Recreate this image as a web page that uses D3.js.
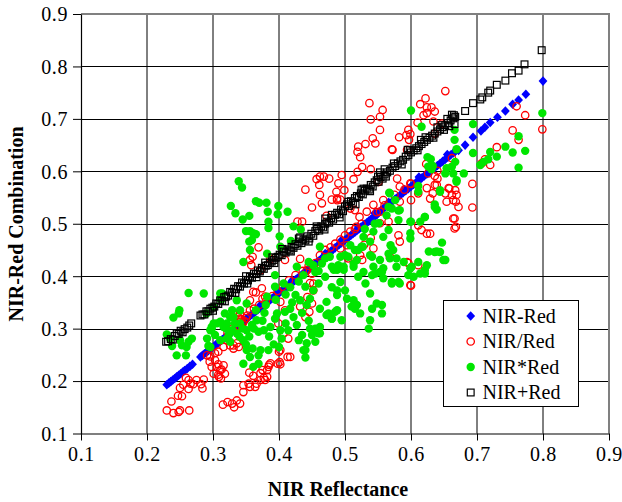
<!DOCTYPE html>
<html>
<head>
<meta charset="utf-8">
<script src="https://cdn.jsdelivr.net/npm/d3@7"></script>
<style>
  body { margin: 0; background: #fff; }
</style>
</head>
<body>
<svg id="chart" width="622" height="502"></svg>
<script>
const SERIF = "Liberation Serif, Times New Roman, serif";

// Axis ticks
const xTicks = [0.1, 0.2, 0.3, 0.4, 0.5, 0.6, 0.7, 0.8, 0.9];
const yTicks = [0.1, 0.2, 0.3, 0.4, 0.5, 0.6, 0.7, 0.8, 0.9];

// Series names (legend order)
const seriesNames = ["NIR-Red", "NIR/Red", "NIR*Red", "NIR+Red"];

// NIR-Red : [NIR reflectance, combination value]
const nirMinusRed = [
  [0.230,0.193],[0.233,0.196],[0.236,0.199],[0.239,0.202],[0.242,0.205],[0.245,0.208],[0.248,0.211],
  [0.251,0.214],[0.254,0.217],[0.257,0.220],[0.261,0.224],[0.265,0.228],[0.269,0.232],
  [0.281,0.246],[0.284,0.249],[0.287,0.252],[0.290,0.255],[0.293,0.258],[0.296,0.261],[0.299,0.264],
  [0.302,0.267],[0.305,0.270],[0.308,0.273],[0.311,0.276],[0.314,0.279],[0.317,0.282],[0.320,0.285],
  [0.323,0.288],[0.326,0.291],[0.329,0.294],[0.332,0.297],[0.335,0.300],[0.338,0.303],[0.341,0.306],
  [0.344,0.309],[0.347,0.312],[0.350,0.318],[0.353,0.321],[0.356,0.324],[0.359,0.327],[0.362,0.330],
  [0.365,0.333],[0.368,0.336],[0.371,0.339],[0.374,0.342],[0.377,0.345],[0.380,0.348],[0.383,0.351],
  [0.386,0.354],[0.389,0.357],[0.392,0.360],[0.395,0.363],[0.398,0.366],[0.401,0.369],[0.404,0.372],
  [0.407,0.375],[0.410,0.378],[0.413,0.381],[0.416,0.384],[0.419,0.387],[0.422,0.390],[0.425,0.393],
  [0.428,0.396],[0.431,0.399],[0.434,0.402],[0.437,0.405],[0.440,0.408],[0.443,0.411],[0.446,0.414],
  [0.449,0.417],[0.452,0.421],[0.455,0.424],[0.458,0.427],[0.461,0.430],[0.464,0.433],[0.467,0.436],
  [0.470,0.439],[0.473,0.442],[0.476,0.445],[0.479,0.448],[0.482,0.451],[0.485,0.454],[0.488,0.457],
  [0.491,0.460],[0.494,0.463],[0.497,0.466],[0.500,0.469],[0.503,0.472],[0.506,0.475],[0.509,0.478],
  [0.512,0.481],[0.515,0.484],[0.518,0.487],[0.521,0.490],[0.524,0.493],[0.527,0.496],[0.530,0.499],
  [0.533,0.502],[0.536,0.505],[0.539,0.508],[0.542,0.511],[0.545,0.514],[0.548,0.517],[0.551,0.521],
  [0.554,0.525],[0.557,0.528],[0.560,0.531],[0.564,0.535],[0.568,0.539],[0.572,0.543],[0.576,0.547],
  [0.580,0.551],[0.584,0.555],[0.588,0.559],[0.592,0.563],[0.596,0.567],[0.600,0.571],[0.604,0.575],
  [0.608,0.579],[0.612,0.583],[0.616,0.587],[0.620,0.591],[0.624,0.595],[0.628,0.599],[0.632,0.603],
  [0.636,0.607],[0.640,0.611],[0.644,0.615],[0.648,0.619],[0.652,0.623],[0.656,0.627],[0.660,0.631],
  [0.664,0.635],[0.667,0.638],[0.672,0.640],[0.682,0.650],[0.694,0.665],[0.706,0.677],[0.712,0.684],
  [0.720,0.693],[0.731,0.703],[0.743,0.715],[0.754,0.728],[0.763,0.736],[0.774,0.747],[0.800,0.772],
  [0.345,0.312],[0.372,0.345],[0.398,0.372],[0.420,0.392],[0.448,0.422],[0.470,0.443],[0.495,0.469],
  [0.520,0.494],[0.545,0.520],[0.566,0.541],[0.590,0.565],[0.612,0.589],[0.633,0.609],[0.655,0.632]
];

// NIR/Red (scaled ratio)
const nirOverRed = [
  [0.230,0.144],[0.237,0.161],[0.240,0.139],[0.248,0.141],[0.250,0.144],[0.264,0.144],[0.247,0.172],
  [0.253,0.171],[0.250,0.187],[0.259,0.206],[0.263,0.185],[0.266,0.195],[0.270,0.194],[0.282,0.194],
  [0.284,0.186],[0.286,0.203],[0.263,0.202],[0.255,0.193],[0.275,0.202],
  [0.291,0.249],[0.295,0.237],[0.298,0.227],[0.301,0.214],[0.306,0.227],[0.308,0.232],[0.308,0.212],
  [0.313,0.222],[0.318,0.214],[0.312,0.205],[0.303,0.253],[0.296,0.247],[0.303,0.240],[0.311,0.221],
  [0.316,0.230],[0.309,0.208],
  [0.315,0.155],[0.322,0.160],[0.329,0.157],[0.336,0.163],[0.341,0.157],[0.332,0.150],
  [0.346,0.179],[0.346,0.192],[0.354,0.195],[0.356,0.189],[0.355,0.216],[0.361,0.210],[0.364,0.189],
  [0.366,0.195],[0.372,0.215],[0.377,0.206],[0.372,0.202],[0.382,0.221],[0.385,0.231],[0.379,0.202],
  [0.384,0.227],[0.387,0.234],[0.375,0.221],[0.382,0.208],[0.398,0.233],[0.402,0.232],[0.400,0.256],
  [0.413,0.246],[0.402,0.259],[0.417,0.246],[0.401,0.236],
  [0.331,0.268],[0.339,0.265],[0.326,0.268],[0.321,0.278],[0.316,0.265],[0.308,0.256],[0.331,0.262],
  [0.336,0.272],
  [0.336,0.305],[0.340,0.312],[0.343,0.318],[0.345,0.310],[0.341,0.319],[0.347,0.315],[0.338,0.322],
  [0.344,0.303],[0.350,0.320],[0.341,0.329],[0.356,0.335],[0.356,0.354],[0.361,0.370],[0.365,0.369],
  [0.374,0.377],[0.379,0.361],[0.375,0.357],[0.402,0.351],[0.409,0.335],[0.399,0.310],[0.407,0.291],
  [0.414,0.281],[0.356,0.431],[0.360,0.437],[0.358,0.421],[0.372,0.411],[0.387,0.433],[0.409,0.431],
  [0.432,0.433],[0.442,0.411],[0.452,0.386],[0.450,0.348],[0.432,0.342],[0.369,0.455],
  [0.322,0.292],[0.330,0.300],[0.352,0.325],[0.362,0.338],[0.370,0.345],[0.380,0.352],[0.390,0.362],
  [0.398,0.372],[0.405,0.380],[0.415,0.392],[0.425,0.402],[0.436,0.410],[0.445,0.420],[0.455,0.425],
  [0.462,0.440],[0.470,0.450],[0.478,0.455],[0.485,0.462],[0.493,0.470],[0.500,0.478],[0.508,0.485],
  [0.515,0.490],[0.525,0.500],
  [0.447,0.387],[0.446,0.332],[0.450,0.405],[0.452,0.373],[0.443,0.360],[0.440,0.322],[0.503,0.459],
  [0.529,0.460],
  [0.611,0.497],[0.624,0.481],[0.616,0.488],[0.583,0.466],[0.581,0.478],[0.594,0.427],[0.599,0.383],
  [0.629,0.481],[0.566,0.504],[0.553,0.501],[0.539,0.473],[0.568,0.437],[0.543,0.453],[0.523,0.440],
  [0.526,0.431],[0.505,0.434],[0.493,0.453],[0.517,0.494],[0.522,0.513],[0.533,0.523],[0.515,0.526],
  [0.508,0.529],[0.543,0.536],[0.553,0.523],[0.583,0.542],[0.611,0.558],[0.600,0.382],[0.596,0.425],
  [0.611,0.421],[0.558,0.545],[0.600,0.545],
  [0.440,0.565],[0.457,0.585],[0.462,0.590],[0.468,0.590],[0.476,0.586],[0.461,0.574],[0.462,0.555],
  [0.450,0.531],[0.465,0.539],[0.480,0.546],[0.487,0.561],[0.488,0.545],[0.472,0.515],[0.428,0.504],
  [0.435,0.504],[0.490,0.577],[0.499,0.564],[0.488,0.548],[0.493,0.546],[0.495,0.593],[0.513,0.585],
  [0.537,0.730],[0.557,0.717],[0.553,0.704],[0.539,0.699],[0.622,0.739],[0.652,0.753],[0.614,0.728],
  [0.624,0.722],[0.631,0.722],[0.636,0.714],[0.624,0.711],[0.619,0.707],[0.634,0.695],[0.647,0.691],
  [0.553,0.679],[0.610,0.693],[0.596,0.679],[0.599,0.671],[0.582,0.665],[0.571,0.642],[0.542,0.663],
  [0.546,0.653],[0.531,0.652],[0.520,0.647],[0.519,0.637],[0.523,0.627],[0.526,0.608],[0.519,0.599],
  [0.539,0.604],[0.579,0.586],[0.640,0.601],[0.640,0.586],[0.662,0.625],[0.593,0.669],[0.636,0.672],
  [0.597,0.660],[0.594,0.641],[0.572,0.641],[0.551,0.580],
  [0.760,0.724],[0.773,0.707],[0.754,0.678],[0.763,0.660],[0.799,0.680],[0.730,0.646],[0.720,0.612],
  [0.712,0.623],[0.707,0.615],[0.693,0.576],[0.693,0.531],[0.666,0.510],[0.662,0.555],[0.654,0.542],
  [0.664,0.545],[0.652,0.558],[0.658,0.567],[0.667,0.564],[0.636,0.591],[0.639,0.574],[0.633,0.558],
  [0.623,0.614],[0.626,0.596],[0.600,0.576],[0.583,0.571],[0.666,0.491],[0.599,0.577],[0.624,0.568],
  [0.636,0.574],[0.657,0.568],[0.669,0.555],[0.668,0.542],[0.672,0.532],[0.664,0.510],[0.668,0.494],
  [0.629,0.548],[0.548,0.522],[0.560,0.535],[0.575,0.555],[0.590,0.565]
];

// NIR*Red (scaled product)
const nirTimesRed = [
  [0.339,0.581],[0.344,0.569],[0.327,0.534],[0.334,0.520],[0.345,0.508],[0.355,0.515],[0.365,0.543],
  [0.370,0.540],[0.381,0.540],[0.383,0.523],[0.399,0.534],[0.398,0.518],[0.413,0.523],[0.384,0.504],
  [0.384,0.492],[0.350,0.486],[0.356,0.486],[0.365,0.480],[0.359,0.469],[0.356,0.450],[0.401,0.476],
  [0.422,0.495],[0.433,0.489],[0.402,0.456],[0.418,0.467],[0.355,0.466],[0.361,0.482],
  [0.263,0.368],[0.249,0.335],[0.240,0.321],[0.230,0.289],[0.238,0.267],[0.250,0.278],[0.260,0.265],
  [0.268,0.281],[0.245,0.249],[0.259,0.249],[0.290,0.329],[0.293,0.267],[0.298,0.300],[0.301,0.341],
  [0.311,0.357],[0.311,0.367],[0.301,0.310],[0.321,0.310],[0.326,0.322],[0.248,0.329],[0.235,0.281],
  [0.253,0.268],[0.263,0.275],[0.296,0.297],[0.303,0.288],[0.306,0.310],[0.314,0.357],[0.321,0.281],
  [0.296,0.265],[0.311,0.278],[0.316,0.303],[0.324,0.288],[0.329,0.297],[0.336,0.291],[0.346,0.278],
  [0.351,0.259],[0.356,0.246],[0.346,0.233],[0.361,0.227],[0.369,0.233],[0.369,0.249],[0.372,0.259],
  [0.384,0.259],[0.331,0.322],[0.341,0.310],[0.351,0.297],[0.359,0.307],[0.366,0.316],[0.369,0.294],
  [0.377,0.297],[0.387,0.303],[0.394,0.319],[0.402,0.297],[0.404,0.281],[0.414,0.297],[0.397,0.329],
  [0.409,0.332],[0.417,0.338],[0.422,0.322],[0.427,0.307],[0.430,0.278],[0.440,0.259],[0.450,0.288],
  [0.455,0.300],[0.462,0.291],[0.475,0.329],[0.480,0.319],[0.488,0.335],[0.407,0.386],[0.417,0.379],
  [0.425,0.364],[0.432,0.354],[0.442,0.345],[0.447,0.357],[0.452,0.373],[0.460,0.386],[0.470,0.399],
  [0.480,0.379],[0.488,0.364],[0.472,0.351],[0.462,0.338],[0.437,0.402],[0.427,0.418],[0.445,0.427],
  [0.455,0.408],[0.465,0.424],[0.477,0.437],[0.488,0.412],[0.394,0.402],[0.394,0.380],[0.382,0.361],
  [0.351,0.348],[0.341,0.335],[0.329,0.335],[0.318,0.329],[0.311,0.313],[0.298,0.303],[0.291,0.281],
  [0.286,0.367],[0.314,0.367],[0.336,0.354],[0.382,0.443],[0.346,0.427],
  [0.320,0.300],[0.333,0.310],[0.345,0.300],[0.355,0.285],[0.362,0.300],[0.375,0.315],[0.385,0.285],
  [0.392,0.270],[0.400,0.265],[0.410,0.310],[0.420,0.350],[0.435,0.330],[0.445,0.315],[0.365,0.335],
  [0.378,0.330],[0.350,0.270],[0.360,0.262],[0.340,0.285],[0.326,0.275],
  [0.568,0.558],[0.576,0.545],[0.566,0.532],[0.583,0.526],[0.581,0.507],[0.563,0.516],[0.551,0.501],
  [0.566,0.488],[0.558,0.475],[0.543,0.485],[0.538,0.466],[0.528,0.475],[0.525,0.456],[0.515,0.450],
  [0.508,0.459],[0.505,0.437],[0.493,0.437],[0.490,0.421],[0.480,0.418],[0.498,0.412],[0.513,0.418],
  [0.518,0.431],[0.538,0.440],[0.543,0.418],[0.553,0.408],[0.558,0.396],[0.571,0.389],[0.581,0.389],
  [0.596,0.402],[0.601,0.418],[0.611,0.427],[0.621,0.412],[0.627,0.447],[0.639,0.447],[0.652,0.431],
  [0.647,0.464],[0.621,0.513],[0.599,0.504],[0.599,0.472],[0.611,0.561],[0.636,0.532],[0.644,0.561],
  [0.669,0.580],[0.578,0.418],[0.568,0.434],[0.573,0.450],
  [0.649,0.431],[0.644,0.446],[0.636,0.446],[0.624,0.421],[0.621,0.405],[0.614,0.405],[0.604,0.399],
  [0.599,0.415],[0.583,0.386],[0.571,0.386],[0.578,0.434],[0.566,0.443],[0.558,0.415],[0.556,0.408],
  [0.546,0.405],[0.541,0.402],[0.531,0.386],[0.538,0.367],[0.548,0.348],[0.556,0.345],[0.556,0.329],
  [0.541,0.338],[0.538,0.316],[0.536,0.300],[0.523,0.329],[0.515,0.338],[0.518,0.345],[0.510,0.342],
  [0.513,0.354],[0.503,0.357],[0.495,0.316],[0.485,0.332],[0.472,0.326],[0.480,0.319],[0.462,0.303],
  [0.460,0.291],[0.447,0.300],[0.442,0.272],[0.455,0.275],[0.435,0.288],[0.437,0.259],[0.440,0.245],
  [0.500,0.373],[0.488,0.373],[0.493,0.389],[0.483,0.412],[0.498,0.418],[0.513,0.424],[0.520,0.399],
  [0.528,0.408],[0.520,0.450],[0.527,0.456],[0.541,0.437],[0.553,0.431],[0.569,0.459],[0.589,0.427],
  [0.462,0.456],[0.470,0.434],[0.452,0.421],
  [0.799,0.711],[0.763,0.667],[0.773,0.639],[0.754,0.636],[0.763,0.607],[0.743,0.647],[0.730,0.628],
  [0.720,0.637],[0.717,0.623],[0.710,0.618],[0.705,0.612],[0.694,0.690],[0.694,0.635],[0.666,0.679],
  [0.666,0.660],[0.669,0.642],[0.667,0.618],[0.662,0.609],[0.664,0.596],[0.652,0.596],[0.654,0.606],
  [0.669,0.583],[0.680,0.596],[0.600,0.716],[0.616,0.685],[0.630,0.623],[0.626,0.609],[0.631,0.604],
  [0.611,0.572],[0.567,0.559],[0.644,0.564],[0.639,0.527],[0.636,0.537],[0.621,0.513],[0.614,0.504],
  [0.600,0.504],[0.599,0.482],[0.581,0.525],[0.571,0.529],[0.625,0.627],[0.633,0.610],
  [0.380,0.345],[0.395,0.355],[0.410,0.365],[0.430,0.390],[0.440,0.380],[0.460,0.410],[0.500,0.440],
  [0.530,0.490],[0.545,0.500]
];

// NIR+Red (scaled sum)
const nirPlusRed = [
  [0.229,0.275],[0.232,0.276],[0.236,0.280],[0.239,0.279],[0.242,0.286],[0.245,0.291],[0.248,0.290],
  [0.251,0.296],[0.254,0.293],[0.257,0.299],[0.261,0.302],[0.264,0.306],[0.267,0.310],
  [0.281,0.325],[0.284,0.327],[0.287,0.327],[0.290,0.333],[0.293,0.333],[0.296,0.338],[0.299,0.340],
  [0.302,0.342],[0.305,0.348],[0.308,0.347],[0.311,0.354],[0.314,0.353],[0.317,0.360],[0.320,0.361],
  [0.323,0.363],[0.326,0.370],[0.329,0.368],[0.332,0.376],[0.335,0.375],[0.338,0.381],[0.341,0.380],
  [0.344,0.388],[0.347,0.386],[0.350,0.393],[0.353,0.392],[0.356,0.399],[0.359,0.397],[0.362,0.405],
  [0.365,0.404],[0.368,0.411],[0.371,0.409],[0.374,0.416],[0.377,0.414],[0.380,0.420],[0.383,0.421],
  [0.386,0.425],[0.389,0.428],[0.392,0.431],[0.395,0.435],[0.398,0.437],[0.401,0.441],[0.404,0.440],
  [0.407,0.447],[0.410,0.445],[0.413,0.451],[0.416,0.449],[0.419,0.456],[0.422,0.454],[0.425,0.461],
  [0.428,0.458],[0.431,0.466],[0.434,0.463],[0.437,0.470],[0.440,0.468],[0.443,0.476],[0.446,0.472],
  [0.449,0.481],[0.452,0.477],[0.455,0.486],[0.458,0.490],[0.461,0.487],[0.464,0.495],[0.467,0.493],
  [0.470,0.500],[0.473,0.504],[0.476,0.502],[0.479,0.511],[0.482,0.508],[0.485,0.517],[0.488,0.521],
  [0.491,0.518],[0.494,0.527],[0.497,0.524],[0.500,0.533],[0.503,0.537],[0.506,0.534],[0.509,0.543],
  [0.512,0.540],[0.515,0.549],[0.518,0.553],[0.521,0.551],[0.524,0.558],[0.527,0.556],[0.530,0.563],
  [0.533,0.567],[0.536,0.565],[0.539,0.574],[0.542,0.571],[0.545,0.579],[0.548,0.583],[0.551,0.580],
  [0.554,0.589],[0.557,0.586],[0.560,0.594],[0.564,0.598],[0.568,0.601],[0.572,0.607],[0.576,0.610],
  [0.580,0.615],[0.584,0.619],[0.588,0.622],[0.592,0.628],[0.596,0.631],[0.600,0.636],[0.604,0.640],
  [0.608,0.644],[0.612,0.648],[0.616,0.652],[0.620,0.656],[0.624,0.660],[0.628,0.664],[0.632,0.668],
  [0.636,0.672],[0.640,0.676],[0.644,0.680],[0.648,0.684],[0.652,0.688],[0.656,0.692],[0.660,0.697],
  [0.664,0.701],[0.667,0.704],
  [0.553,0.598],[0.560,0.604],[0.525,0.565],[0.470,0.510],[0.430,0.472],[0.390,0.436],[0.350,0.400],
  [0.595,0.641],[0.615,0.660],[0.640,0.684],[0.655,0.700],[0.662,0.708],[0.666,0.690],[0.650,0.679],
  [0.300,0.334],[0.318,0.352],[0.334,0.368],[0.352,0.386],[0.366,0.398],[0.379,0.426],[0.393,0.425],
  [0.405,0.452],[0.418,0.447],[0.432,0.474],[0.445,0.466],[0.457,0.495],[0.469,0.489],[0.480,0.517],
  [0.492,0.512],[0.505,0.542],[0.516,0.537],[0.528,0.567],[0.538,0.562],[0.550,0.590],[0.562,0.590],
  [0.574,0.615],[0.586,0.613],[0.598,0.640],[0.610,0.640],[0.622,0.665],[0.634,0.664],[0.646,0.688],
  [0.658,0.686],[0.665,0.707],
  [0.682,0.715],[0.694,0.730],[0.705,0.737],[0.708,0.741],[0.717,0.750],[0.720,0.754],[0.730,0.765],
  [0.743,0.773],[0.753,0.787],[0.763,0.792],[0.772,0.804],[0.798,0.831]
];

const svg = d3.select("#chart");
const x = d3.scaleLinear().domain([0.1, 0.9]).range([81, 609]);
const y = d3.scaleLinear().domain([0.1, 0.9]).range([433.5, 14]);

// Gridlines
const grid = svg.append("g");
grid.selectAll("line.v").data(xTicks.slice(1, -1)).join("line")
  .attr("x1", d => x(d)).attr("x2", d => x(d))
  .attr("y1", y(0.1)).attr("y2", y(0.9))
  .attr("stroke", "#000").attr("stroke-width", 1);
grid.selectAll("line.h").data(yTicks.slice(1, -1)).join("line")
  .attr("x1", x(0.1)).attr("x2", x(0.9))
  .attr("y1", d => Math.round(y(d)) + 0.5).attr("y2", d => Math.round(y(d)) + 0.5)
  .attr("stroke", "#000").attr("stroke-width", 1);

// Plot area top and right borders
svg.append("path")
  .attr("d", `M${x(0.1)},${y(0.9)}H${x(0.9)}V${y(0.1)}`)
  .attr("fill", "none").attr("stroke", "#808080").attr("stroke-width", 2);

// Axes
const fmt = d3.format(".1f");
const yAxis = svg.append("g")
  .attr("transform", `translate(${x(0.1)},0)`)
  .call(d3.axisLeft(y).tickValues(yTicks).tickFormat(fmt).tickSize(8).tickSizeOuter(0).tickPadding(5));
const xAxis = svg.append("g")
  .attr("transform", `translate(0,${y(0.1)})`)
  .call(d3.axisBottom(x).tickValues(xTicks).tickFormat(fmt).tickSize(7).tickSizeOuter(0).tickPadding(6));
[xAxis, yAxis].forEach(a => {
  a.attr("font-family", SERIF).attr("font-size", 20);
  a.select(".domain").attr("stroke", "#000").attr("stroke-width", 1.2);
  a.selectAll(".tick line").attr("stroke", "#000");
  a.selectAll(".tick text").attr("fill", "#000").attr("letter-spacing", 0.6);
});
yAxis.selectAll(".tick text").attr("dy", "0.34em");

// Marker drawers
const diamond = "M0,-4.8L4.4,0L0,4.8L-4.4,0Z";
function drawDiamonds(g, data) {
  g.selectAll("path").data(data).join("path")
    .attr("d", diamond)
    .attr("transform", d => `translate(${x(d[0])},${y(d[1])})`)
    .attr("fill", "#0000ff");
}
function drawOpenCircles(g, data) {
  g.selectAll("circle").data(data).join("circle")
    .attr("cx", d => x(d[0])).attr("cy", d => y(d[1])).attr("r", 3.7)
    .attr("fill", "none").attr("stroke", "#ff0000").attr("stroke-width", 1.3);
}
function drawDots(g, data) {
  g.selectAll("circle").data(data).join("circle")
    .attr("cx", d => x(d[0])).attr("cy", d => y(d[1])).attr("r", 4.2)
    .attr("fill", "#00e600");
}
function drawSquares(g, data) {
  g.selectAll("rect").data(data).join("rect")
    .attr("x", d => x(d[0]) - 3.4).attr("y", d => y(d[1]) - 3.4)
    .attr("width", 6.8).attr("height", 6.8)
    .attr("fill", "none").attr("stroke", "#000").attr("stroke-width", 1.2);
}

drawDiamonds(svg.append("g"), nirMinusRed);
drawOpenCircles(svg.append("g"), nirOverRed);
drawDots(svg.append("g"), nirTimesRed);
drawSquares(svg.append("g"), nirPlusRed);

// Axis titles
svg.append("text")
  .attr("x", 338).attr("y", 496)
  .attr("font-family", SERIF)
  .attr("text-anchor", "middle").attr("font-size", 20).attr("font-weight", "bold")
  .text("NIR Reflectance");
svg.append("text")
  .attr("transform", "translate(23,224) rotate(-90)")
  .attr("font-family", SERIF)
  .attr("text-anchor", "middle").attr("font-size", 20).attr("font-weight", "bold")
  .text("NIR-Red Combination");

// Legend
const legend = svg.append("g");
legend.append("rect")
  .attr("x", 443.5).attr("y", 300.5).attr("width", 135).attr("height", 106)
  .attr("fill", "#fff").attr("stroke", "#000").attr("stroke-width", 1);
const rowY = [316, 341.5, 367, 392.5];
const drawers = [
  g => g.append("path").attr("d", diamond).attr("fill", "#0000ff"),
  g => g.append("circle").attr("r", 3.7).attr("fill", "none").attr("stroke", "#ff0000").attr("stroke-width", 1.3),
  g => g.append("circle").attr("r", 4.2).attr("fill", "#00e600"),
  g => g.append("rect").attr("x", -3.4).attr("y", -3.4).attr("width", 6.8).attr("height", 6.8)
        .attr("fill", "none").attr("stroke", "#000").attr("stroke-width", 1.2)
];
seriesNames.forEach((name, i) => {
  const row = legend.append("g").attr("transform", `translate(0,${rowY[i]})`);
  drawers[i](row.append("g").attr("transform", "translate(470.7,0)"));
  row.append("text").attr("x", 482.5).attr("dy", "0.34em")
    .attr("font-family", SERIF)
    .attr("font-size", 20).attr("fill", "#000").text(name);
});
</script>
</body>
</html>
